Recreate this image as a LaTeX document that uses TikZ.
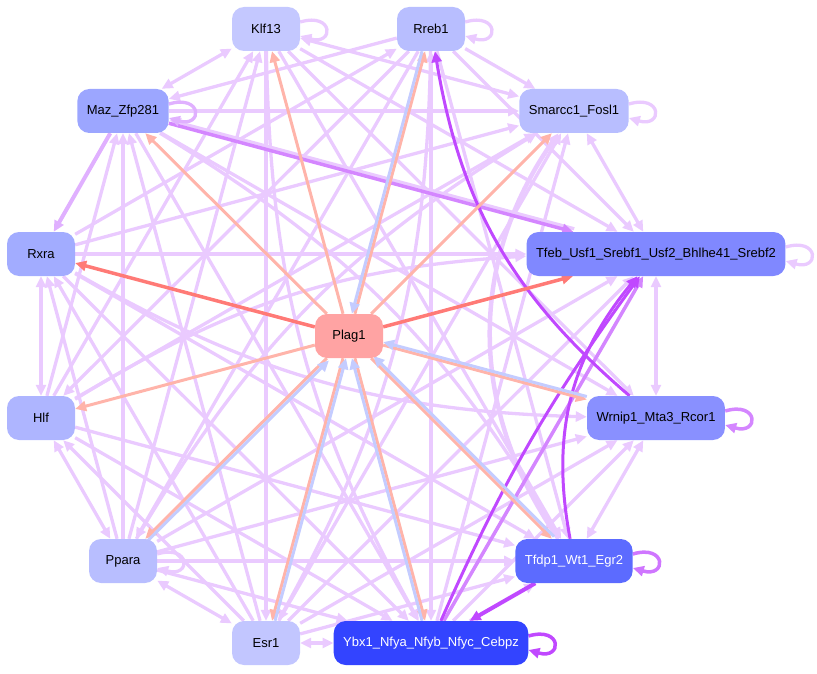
\documentclass[tikz,border=0pt]{standalone}
\usepackage{fontspec}
\setmainfont{Liberation Sans}
\usetikzlibrary{arrows.meta,backgrounds}
\definecolor{lavc}{RGB}{234,202,255}
\definecolor{lavdark}{RGB}{224,176,255}
\definecolor{purpc}{RGB}{212,134,255}
\definecolor{deepc}{RGB}{192,72,255}
\definecolor{salmonc}{RGB}{255,180,170}
\definecolor{coralc}{RGB}{255,122,118}
\definecolor{bluec}{RGB}{196,204,255}
\definecolor{klfc}{RGB}{196,200,255}
\definecolor{rrebc}{RGB}{184,190,255}
\definecolor{mazc}{RGB}{156,166,255}
\definecolor{smarccc}{RGB}{184,190,255}
\definecolor{rxrac}{RGB}{162,172,255}
\definecolor{tfebc}{RGB}{128,136,255}
\definecolor{plagc}{RGB}{255,163,163}
\definecolor{hlfc}{RGB}{174,181,255}
\definecolor{wrnipc}{RGB}{137,144,255}
\definecolor{pparac}{RGB}{184,190,255}
\definecolor{tfdpc}{RGB}{92,107,255}
\definecolor{esrc}{RGB}{194,198,255}
\definecolor{ybxc}{RGB}{51,68,255}

\begin{document}
\begin{tikzpicture}[x=1pt,y=1pt,
  every node/.append style={rounded corners=12pt, minimum width=68pt, minimum height=44pt,
    inner xsep=9.5pt, font=\fontsize{13}{15}\selectfont, text=black},
  lav/.style={draw=lavc, line width=3.3pt, -{Triangle[length=11pt,width=10pt]}},
  lavboth/.style={lav, {Triangle[length=11pt,width=10pt]}-{Triangle[length=11pt,width=10pt]}},
  lavmid/.style={lav, draw=lavdark},
  purp/.style={lav, draw=purpc, line width=3.5pt},
  deep/.style={lav, draw=deepc, line width=3pt},
  salm/.style={lav, draw=salmonc, line width=3pt},
  coral/.style={lav, draw=coralc, line width=3.5pt},
  pale/.style={lav, draw=bluec, line width=3pt}]
\useasboundingbox (0,0) rectangle (817,-674);

\node[fill=klfc] (klf) at (266,-29) {Klf13};
\node[fill=rrebc] (rreb) at (431,-29) {Rreb1};
\node[fill=mazc] (maz) at (123,-111) {Maz\_Zfp281};
\node[fill=smarccc] (smarcc) at (574,-111) {Smarcc1\_Fosl1};
\node[fill=rxrac] (rxra) at (41,-254) {Rxra};
\node[fill=tfebc] (tfeb) at (656,-254) {Tfeb\_Usf1\_Srebf1\_Usf2\_Bhlhe41\_Srebf2};
\node[fill=plagc] (plag) at (349,-336) {Plag1};
\node[fill=hlfc] (hlf) at (41,-418) {Hlf};
\node[fill=wrnipc] (wrnip) at (656,-418) {Wrnip1\_Mta3\_Rcor1};
\node[fill=pparac] (ppara) at (123,-561) {Ppara};
\node[fill=tfdpc, text=white] (tfdp) at (574,-561) {Tfdp1\_Wt1\_Egr2};
\node[fill=esrc] (esr) at (266,-643) {Esr1};
\node[fill=ybxc, text=white] (ybx) at (431,-643) {Ybx1\_Nfya\_Nfyb\_Nfyc\_Cebpz};

\begin{scope}[on background layer]
\foreach \a/\b in {rreb/maz, rreb/smarcc, rreb/tfeb, rreb/ppara, rreb/hlf, rxra/rreb, rreb/tfdp,
  klf/tfeb, klf/wrnip, klf/tfdp, klf/esr, ppara/klf, hlf/klf,
  maz/smarcc, maz/wrnip, maz/ybx, hlf/maz, esr/maz, ppara/maz,
  rxra/smarcc, hlf/smarcc, esr/smarcc, ybx/smarcc,
  rxra/tfeb, rxra/tfdp, rxra/ybx, ppara/rxra, esr/rxra,
  hlf/tfdp, hlf/ybx, esr/hlf,
  ppara/tfeb, ppara/wrnip, ppara/tfdp, ppara/ybx,
  esr/tfeb, esr/wrnip, esr/tfdp, ybx/wrnip, ybx/tfdp}
  \draw[lav] (\a) -- (\b);
\foreach \a/\b in {klf/maz, rxra/hlf, hlf/ppara, ppara/esr, esr/ybx, smarcc/tfeb,
  tfeb/wrnip, wrnip/tfdp, klf/smarcc, rreb/ybx}
  \draw[lavboth] (\a) -- (\b);
\draw[lav] (klf) to[bend right=14] (ybx);
\draw[lav] (rreb) to[bend left=14] (esr);
\draw[lav] (maz) to[bend left=14] (tfdp);
\draw[lav] (ppara) to[bend left=14] (smarcc);
\draw[lav] (rxra) to[bend right=14] (wrnip);
\draw[lav] (hlf) to[bend left=14] (tfeb);
\draw[lav, line width=4.5pt] (tfdp) to[bend left=35] (smarcc);
\draw[lavmid, line width=4pt] (maz) -- (rxra);
\draw[lav, transform canvas={shift={(0.9pt,3pt)}}] (tfeb) -- (maz);

\draw[purp] (maz) -- (tfeb);
\draw[purp] (ybx) -- (tfeb);
\draw[deep] (ybx) to[bend left=6] (tfeb);
\draw[deep] (tfdp) to[bend left=25] (tfeb);
\draw[deep] (wrnip) to[bend left=20] (rreb);
\draw[deep, line width=4pt] (tfdp) -- (ybx);

\draw[lav] ([yshift=7pt]klf.east) .. controls +(34pt,10pt) and +(34pt,-10pt) .. ([yshift=-7pt]klf.east);
\draw[lav] ([yshift=7pt]rreb.east) .. controls +(34pt,10pt) and +(34pt,-10pt) .. ([yshift=-7pt]rreb.east);
\draw[lavmid] ([yshift=7pt]maz.east) .. controls +(34pt,10pt) and +(34pt,-10pt) .. ([yshift=-7pt]maz.east);
\draw[lav] ([yshift=7pt]smarcc.east) .. controls +(34pt,10pt) and +(34pt,-10pt) .. ([yshift=-7pt]smarcc.east);
\draw[lav] ([yshift=7pt]tfeb.east) .. controls +(34pt,10pt) and +(34pt,-10pt) .. ([yshift=-7pt]tfeb.east);
\draw[lav] ([yshift=7pt]ppara.east) .. controls +(34pt,10pt) and +(34pt,-10pt) .. ([yshift=-7pt]ppara.east);
\draw[purp] ([yshift=7pt]wrnip.east) .. controls +(34pt,10pt) and +(34pt,-10pt) .. ([yshift=-7pt]wrnip.east);
\draw[purp, draw=purpc!75!deepc] ([yshift=7pt]tfdp.east) .. controls +(34pt,10pt) and +(34pt,-10pt) .. ([yshift=-7pt]tfdp.east);
\draw[deep, line width=3.5pt] ([yshift=7pt]ybx.east) .. controls +(34pt,10pt) and +(34pt,-10pt) .. ([yshift=-7pt]ybx.east);

\foreach \b in {klf, maz, smarcc, hlf, rreb, ppara, esr, ybx, tfdp, wrnip}
  \draw[salm] (plag) -- (\b);
\draw[coral] (plag) -- (rxra);
\draw[coral] (plag) -- (tfeb);
\foreach \a/\dx/\dy in {rreb/-3/0, ppara/2.2/-2.2, esr/3/0, ybx/-3/0, tfdp/2.2/2.2, wrnip/0/3}
  \draw[pale, transform canvas={shift={(\dx pt,\dy pt)}}] (\a) -- (plag);
\end{scope}
\end{tikzpicture}
\end{document}
